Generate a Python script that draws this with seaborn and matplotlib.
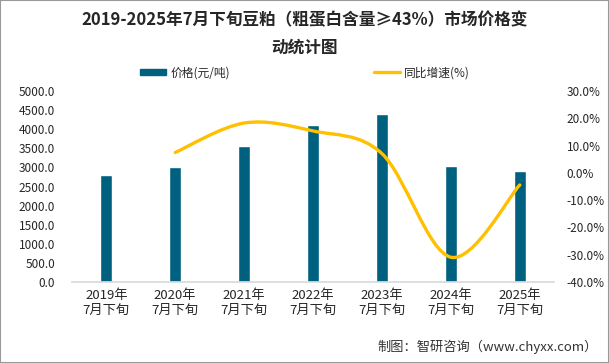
import numpy as np
import matplotlib
matplotlib.use("Agg")
import matplotlib.pyplot as plt
from matplotlib.path import Path
from matplotlib.patches import PathPatch
from matplotlib.lines import Line2D
from matplotlib.patches import Patch
import seaborn as sns

# data
years = ['2019年', '2020年', '2021年', '2022年', '2023年', '2024年', '2025年']
periods = [y + '\n7月下旬' for y in years]
prices = [2800, 3010, 3560, 4110, 4400, 3040, 2905]
growth = [np.nan, 7.5, 18.3, 15.4, 7.1, -30.9, -4.4]

bar_color = '#00607f'
line_color = '#ffc000'

sns.set_theme(style='white')
plt.rcParams['font.family'] = ['Noto Sans CJK SC', 'DejaVu Sans']
plt.rcParams['axes.unicode_minus'] = False

fig = plt.figure(figsize=(6.09, 3.63), dpi=100)
ax = fig.add_axes([0.118, 0.223, 0.792, 0.526])

sns.barplot(x=periods, y=prices, color=bar_color, width=0.17, ax=ax, saturation=1)
ax.set_xlim(-0.5, 6.5)
ax.set_ylim(0, 5000)
ax.set_yticks(np.arange(0, 5001, 500))
ax.set_yticklabels([f'{v:.1f}' for v in np.arange(0, 5001, 500)], fontsize=8.5)
ax.tick_params(axis='x', labelsize=9.5, pad=5, length=0)
ax.tick_params(axis='y', length=0, pad=12)
for s in ['top', 'right', 'left']:
    ax.spines[s].set_visible(False)
ax.spines['bottom'].set_color('#d9d9d9')
ax.set_xlabel('')
ax.set_ylabel('')

# smoothed growth line on the secondary axis (bezier through the points)
ax2 = ax.twinx()
ax2.set_ylim(-40, 30)
ax2.set_yticks(np.arange(-40, 31, 10))
ax2.set_yticklabels([f'{v:.1f}%' for v in np.arange(-40, 31, 10)], fontsize=8.5)
ax2.tick_params(axis='y', length=0, pad=9)
for s in ax2.spines.values():
    s.set_visible(False)
ax2.grid(False)

pts = np.array([(i, g) for i, g in enumerate(growth) if not np.isnan(g)])
verts = [tuple(pts[0])]
codes = [Path.MOVETO]
n = len(pts)
for i in range(n - 1):
    p0 = pts[i - 1] if i > 0 else pts[i]
    p1 = pts[i]
    p2 = pts[i + 1]
    p3 = pts[i + 2] if i + 2 < n else pts[i + 1]
    c1 = p1 + (p2 - p0) / 6
    c2 = p2 - (p3 - p1) / 6
    verts += [tuple(c1), tuple(c2), tuple(p2)]
    codes += [Path.CURVE4] * 3
ax2.add_patch(PathPatch(Path(verts, codes), fill=False, edgecolor=line_color,
                        lw=2.4, capstyle='round'))

# legend
handles = [Patch(color=bar_color), Line2D([0], [0], color=line_color, lw=2.4)]
fig.legend(handles, ['价格(元/吨)', '同比增速(%)'], loc='center', bbox_to_anchor=(0.501, 0.8),
           ncol=2, frameon=False, fontsize=8.5, columnspacing=12.2, handlelength=2.2,
           handleheight=0.5, handletextpad=0.35)

fig.text(0.5, 0.945, '2019-2025年7月下旬豆粕（粗蛋白含量≥43%）市场价格变', ha='center',
         va='center', fontsize=12, fontweight='bold')
fig.text(0.5, 0.87, '动统计图', ha='center', va='center', fontsize=12, fontweight='bold')
fig.text(0.982, 0.045, '制图：智研咨询（www.chyxx.com）', ha='right', va='center',
         fontsize=9.5, color='#333333')

fig.patches.append(plt.Rectangle((0, 0), 1, 1, transform=fig.transFigure, fill=False,
                                 edgecolor='#999999', lw=1.5))
fig.savefig('out.png', dpi=100)
